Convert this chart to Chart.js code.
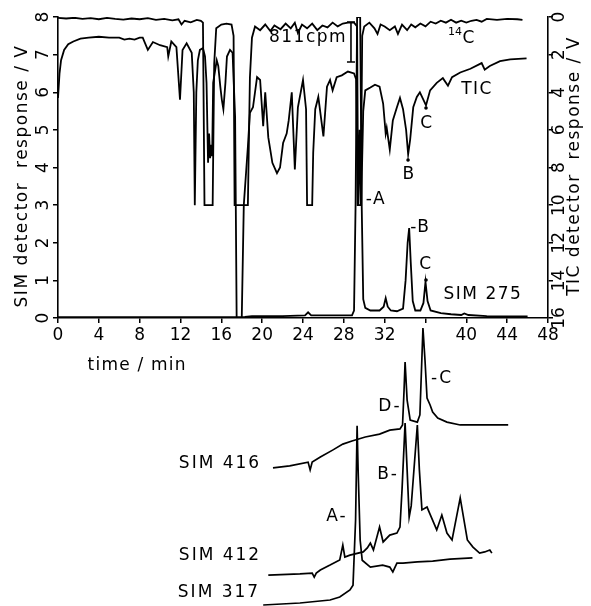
<!DOCTYPE html>
<html>
<head>
<meta charset="utf-8">
<script src="https://cdn.jsdelivr.net/npm/chart.js@4.4.1/dist/chart.umd.min.js"></script>
<style>
  html, body { margin: 0; padding: 0; background: #fff; }
  #wrap { position: relative; width: 591px; height: 606px; overflow: hidden; }
  canvas { position: absolute; left: 0; }
</style>
</head>
<body>
<div id="wrap">
  <canvas id="top" width="591" height="380" style="top:0"></canvas>
  <canvas id="bot" width="591" height="286" style="top:320px"></canvas>
</div>
<script>
// axes
const xTicks = [0, 4, 8, 12, 16, 20, 24, 28, 32, 36, 40, 44, 48];
const xTickLabels = ["0", "4", "8", "12", "16", "20", "24", "28", "32", "", "40", "44", "48"];
const simTicks = [0, 1, 2, 3, 4, 5, 6, 7, 8];
const ticTicks = [0, 2, 4, 6, 8, 10, 12, 14, 16];

// 14C radioactivity trace (right axis units, clipped at 10)
const c14Time = [0, 0.8, 1.6, 2.4, 3.2, 4.0, 4.8, 5.6, 6.4, 7.2, 8.0, 8.8, 9.6, 10.4, 11.2, 11.8, 12.1, 12.4, 13.0, 13.6,
  14.0, 14.2, 14.35, 15.15, 15.3, 15.5, 16.0, 16.5, 17.0, 17.2, 17.3, 18.6, 18.8, 19.0, 19.3, 19.8, 20.3, 20.8, 21.2, 21.8,
  22.3, 22.8, 23.2, 23.5, 23.9, 24.4, 24.9, 25.4, 25.9, 26.4, 26.9, 27.4, 27.9, 28.4, 29.0, 29.3, 29.4, 29.55, 29.65, 29.8,
  30.0, 30.5, 31.0, 31.3, 31.6, 32.0, 32.5, 33.0, 33.3, 33.7, 34.2, 34.6, 35.0, 35.5, 36.0, 36.5, 37.0, 37.5, 38.0, 38.5,
  39.0, 39.5, 40.0, 40.5, 41.0, 41.5, 42.0, 43.0, 44.0, 45.0, 45.5];
const c14Resp = [0.05, 0.08, 0.04, 0.1, 0.06, 0.12, 0.05, 0.1, 0.14, 0.08, 0.12, 0.06, 0.15, 0.1, 0.18, 0.12, 0.4, 0.2, 0.28, 0.15,
  0.2, 0.3, 10, 10, 2.5, 0.6, 0.4, 0.35, 0.4, 1.0, 10, 10, 3.2, 1.1, 0.5, 0.7, 0.4, 0.75, 0.45, 0.65,
  0.35, 0.6, 0.3, 0.85, 0.4, 0.6, 0.35, 0.7, 0.45, 0.55, 0.3, 0.5, 0.35, 0.3, 0.3, 0.5, 10, 6, 10, 1.0,
  0.5, 0.3, 0.6, 0.9, 0.4, 0.5, 0.7, 0.5, 0.9, 0.4, 0.7, 0.4, 0.55, 0.35, 0.5, 0.25, 0.35, 0.2, 0.3, 0.15,
  0.3, 0.2, 0.3, 0.2, 0.15, 0.25, 0.1, 0.15, 0.1, 0.12, 0.15];

// total ion current (right axis, V)
const ticTime = [0, 0.15, 0.3, 0.6, 1.0, 1.5, 2.2, 3.0, 4.0, 5.0, 6.0, 6.5, 7.0, 7.5, 8.0, 8.3, 8.8, 9.3, 10.0, 10.7,
  10.8, 11.1, 11.6, 11.95, 12.2, 12.6, 13.1, 13.3, 13.4, 13.55, 13.7, 13.9, 14.2, 14.4, 14.55, 14.7, 14.8, 14.9, 15.0, 15.1,
  15.2, 15.55, 15.7, 15.9, 16.05, 16.2, 16.4, 16.55, 16.85, 17.1, 17.35, 17.5, 18.0, 18.2, 18.6, 18.8, 19.1, 19.5, 19.8, 20.1,
  20.3, 20.6, 21.0, 21.45, 21.75, 22.05, 22.4, 22.6, 22.9, 23.2, 23.5, 24.0, 24.3, 24.4, 24.9, 25.0, 25.2, 25.5, 26.0, 26.35,
  26.65, 26.9, 27.3, 27.8, 28.4, 29.0, 29.2, 29.35, 29.7, 29.9, 30.1, 30.6, 31.05, 31.5, 31.85, 32.1, 32.2, 32.5, 32.8, 33.2,
  33.5, 33.8, 34.1, 34.3, 34.5, 34.8, 35.15, 35.45, 35.8, 36.05, 36.45, 37.1, 37.7, 38.2, 38.6, 39.4, 40.4, 41.5, 41.8, 42.3,
  43.3, 44.3, 45.9];
const ticResp = [4.3, 3.0, 2.3, 1.75, 1.45, 1.3, 1.15, 1.1, 1.05, 1.1, 1.1, 1.2, 1.15, 1.2, 1.1, 1.1, 1.75, 1.33, 1.5, 1.6,
  2.1, 1.3, 1.6, 4.4, 1.75, 1.4, 1.9, 4.0, 10, 4.0, 2.3, 1.75, 1.65, 2.1, 3.5, 7.75, 6.2, 7.5, 6.8, 7.4,
  3.5, 2.3, 2.6, 3.7, 4.4, 4.9, 3.5, 2.1, 1.75, 1.9, 5.3, 16, 16, 10, 6.9, 5.1, 4.8, 3.2, 3.35, 5.8,
  4.0, 6.4, 7.75, 8.3, 8.0, 6.7, 6.2, 5.5, 4.0, 8.1, 4.8, 3.35, 4.9, 10, 10, 7.2, 4.9, 4.25, 6.35, 3.7,
  3.35, 3.9, 3.2, 3.1, 2.9, 3.0, 3.3, 10, 10, 5.0, 3.9, 3.75, 3.6, 3.7, 4.6, 6.2, 5.9, 7.05, 5.5, 4.8,
  4.3, 4.9, 6.0, 7.3, 6.5, 4.8, 4.25, 4.0, 4.4, 4.7, 3.9, 3.5, 3.25, 3.65, 3.2, 2.95, 2.75, 2.45, 2.8, 2.6,
  2.35, 2.25, 2.2];

// SIM m/z 275 (left axis, V)
const sim275Time = [0, 17.3, 18.3, 19.0, 22.0, 24.2, 24.5, 24.8, 28.8, 29.0, 29.15, 29.3, 29.6, 29.75, 29.9, 30.1, 30.6, 31.5, 31.9, 32.1,
  32.3, 32.6, 33.2, 33.8, 34.05, 34.25, 34.4, 34.55, 34.75, 35.0, 35.5, 35.8, 36.0, 36.2, 36.5, 37.5, 38.5, 39.5, 39.8, 40.2,
  42.0, 46.0];
const sim275Resp = [0.02, 0.02, 0.03, 0.05, 0.05, 0.07, 0.15, 0.07, 0.07, 0.2, 3.0, 8.0, 8.0, 3.0, 0.5, 0.27, 0.2, 0.2, 0.3, 0.53,
  0.3, 0.2, 0.18, 0.25, 1.0, 2.0, 2.39, 1.5, 0.45, 0.2, 0.2, 0.4, 0.96, 0.45, 0.2, 0.13, 0.1, 0.08, 0.12, 0.08,
  0.05, 0.04];

// lower traces, relative response (offset traces)
const sim416Time = [21.06, 22.7, 24.5, 24.7, 24.9, 25.7, 26.9, 27.9, 28.8, 30.1, 31.5, 32.5, 33.5, 33.75, 33.9, 34.0, 34.2, 34.5, 35.2, 35.45,
  35.6, 35.75, 35.95, 36.15, 36.45, 36.7, 37.2, 38.1, 39.4, 41.6, 44.1];
const sim416Resp = [48.3, 49, 50.3, 47.6, 50.3, 52.1, 54.5, 56.6, 57.7, 59.1, 60.1, 61.5, 61.9, 63.3, 75.5, 85.3, 72, 65, 64.3, 66.8,
  82, 97.2, 86, 72.7, 70.3, 67.8, 65.7, 64.3, 63.3, 63.3, 63.3];

const sim412Time = [20.6, 23.7, 24.9, 25.1, 25.3, 25.7, 26.65, 27.6, 27.9, 28.1, 28.6, 29.9, 30.3, 30.6, 30.9, 31.5, 31.85, 32.5, 33.2, 33.5,
  33.7, 34.0, 34.2, 34.4, 34.6, 35.2, 35.4, 35.65, 36.15, 36.4, 37.1, 37.6, 38.1, 38.6, 39.4, 40.1, 40.65, 41.3, 41.8, 42.3,
  42.5];
const sim412Resp = [10.8, 11.2, 11.5, 10.1, 11.5, 12.6, 14.3, 16.1, 21.3, 17.1, 17.8, 18.9, 20.3, 22, 19.6, 27.6, 22.4, 24.8, 25.5, 27.6,
  40.6, 64, 47.6, 31.1, 35, 63.3, 47.6, 33.6, 34.6, 32.5, 26.6, 31.8, 25.5, 23.1, 37.8, 23.1, 20.6, 18.5, 18.9, 19.6,
  18.5];

const sim317Time = [20.1, 23.7, 26.65, 27.6, 28.6, 28.9, 29.15, 29.3, 29.4, 29.6, 29.8, 30.6, 31.8, 32.5, 32.8, 33.2, 33.8, 35.2, 36.7, 38.4, 40.6];
const sim317Resp = [0.35, 1.05, 2.1, 3.15, 5.6, 7.3, 30, 63, 47.5, 23, 16, 13.6, 14.3, 13.6, 11.9, 15, 15, 15.4, 15.7, 16.4, 16.8];

// text placed at (time, value)
const topNotes = [
  { text: "811cpm", t: 24.49, v: 1.12, axis: "yr" },
  { text: "TIC", t: 41.05, v: 3.88, axis: "yr" },
  { text: "C", t: 36.15, v: 5.69, axis: "yr" },
  { text: "B", t: 34.38, v: 8.35, axis: "yr" },
  { text: "-A", t: 31.15, v: 3.14, axis: "y" },
  { text: "-B", t: 35.5, v: 2.39, axis: "y" },
  { text: "C", t: 36.05, v: 1.41, axis: "y" },
  { text: "SIM 275", t: 41.63, v: 0.61, axis: "y" }
];
const topDots = [
  { t: 36.05, v: 4.84, axis: "yr" },
  { t: 34.29, v: 7.6, axis: "yr" },
  { t: 36.05, v: 1.01, axis: "y" }
];
const botNotes = [
  { text: "SIM 416", t: 15.87, v: 49.65 },
  { text: "SIM 412", t: 15.87, v: 17.48 },
  { text: "SIM 317", t: 15.77, v: 4.55 },
  { text: "A-", t: 27.33, v: 31.1 },
  { text: "B-", t: 32.33, v: 45.8 },
  { text: "D-", t: 32.52, v: 69.9 },
  { text: "-C", t: 37.62, v: 79.4 }
];

const FONT = '"DejaVu Sans", "Liberation Sans", sans-serif';

function pts(ts, vs) {
  return ts.map((t, i) => ({ x: t, y: vs[i] }));
}

function rotText(ctx, text, x, y) {
  ctx.save();
  ctx.translate(x, y);
  ctx.rotate(-Math.PI / 2);
  ctx.fillText(text, 0, 0);
  ctx.restore();
}

const topText = {
  id: "topText",
  afterDraw(chart) {
    const { ctx, chartArea: a, scales } = chart;
    const x = scales.x;
    ctx.save();
    ctx.fillStyle = "#000";
    ctx.strokeStyle = "#000";
    ctx.textAlign = "center";
    ctx.textBaseline = "middle";
    ctx.font = "17px " + FONT;

    xTicks.forEach((t, i) => ctx.fillText(xTickLabels[i], x.getPixelForValue(t), a.bottom + 18));
    simTicks.forEach(v => rotText(ctx, String(v), a.left - 14.5, scales.y.getPixelForValue(v)));
    ticTicks.forEach(v => rotText(ctx, String(v), a.right + 11.5, scales.yr.getPixelForValue(v)));

    ctx.letterSpacing = "1.5px";
    rotText(ctx, "SIM detector  response / V", 22.5, 176);
    rotText(ctx, "TIC detector  response / V", a.right + 27, 166);
    ctx.letterSpacing = "1.2px";
    ctx.fillText("time / min", x.getPixelForValue(7.75), a.bottom + 48);

    ctx.letterSpacing = "1.5px";
    topNotes.forEach(n => ctx.fillText(n.text, x.getPixelForValue(n.t), scales[n.axis].getPixelForValue(n.v)));
    ctx.letterSpacing = "0px";

    // 14C label with superscript
    ctx.font = "11px " + FONT;
    ctx.fillText("14", x.getPixelForValue(38.9), scales.yr.getPixelForValue(0.8));
    ctx.font = "17px " + FONT;
    ctx.fillText("C", x.getPixelForValue(40.2), scales.yr.getPixelForValue(1.17));

    topDots.forEach(d => {
      ctx.beginPath();
      ctx.arc(x.getPixelForValue(d.t), scales[d.axis].getPixelForValue(d.v), 1.8, 0, Math.PI * 2);
      ctx.fill();
    });

    // 811 cpm scale bar
    const bx = x.getPixelForValue(28.7);
    const by1 = scales.yr.getPixelForValue(0.27);
    const by2 = scales.yr.getPixelForValue(2.39);
    ctx.lineWidth = 1.6;
    ctx.beginPath();
    ctx.moveTo(bx, by1); ctx.lineTo(bx, by2);
    ctx.moveTo(bx - 4, by1); ctx.lineTo(bx + 4, by1);
    ctx.moveTo(bx - 4, by2); ctx.lineTo(bx + 4, by2);
    ctx.stroke();
    ctx.restore();
  }
};

const botText = {
  id: "botText",
  afterDraw(chart) {
    const { ctx, scales } = chart;
    ctx.save();
    ctx.fillStyle = "#000";
    ctx.textAlign = "center";
    ctx.textBaseline = "middle";
    ctx.font = "17px " + FONT;
    ctx.letterSpacing = "2px";
    botNotes.forEach(n => ctx.fillText(n.text, scales.x.getPixelForValue(n.t), scales.y.getPixelForValue(n.v)));
    ctx.restore();
  }
};

const axisGrid = { drawOnChartArea: false, drawTicks: true, tickLength: 5, color: "#000", lineWidth: 1.5 };
const axisBorder = { color: "#000", width: 1.6 };

new Chart(document.getElementById("top"), {
  type: "line",
  data: {
    datasets: [
      { label: "14C", data: pts(c14Time, c14Resp), yAxisID: "yr" },
      { label: "TIC", data: pts(ticTime, ticResp), yAxisID: "yr" },
      { label: "SIM 275", data: pts(sim275Time, sim275Resp), yAxisID: "y" }
    ]
  },
  options: {
    responsive: false,
    animation: false,
    layout: { padding: { top: 17, left: 0, right: 0, bottom: 0 } },
    plugins: { legend: { display: false }, tooltip: { enabled: false } },
    elements: {
      point: { radius: 0 },
      line: { borderColor: "#000", borderWidth: 1.8, tension: 0, fill: false }
    },
    scales: {
      x: {
        type: "linear", min: 0, max: 48,
        ticks: { stepSize: 4, display: false },
        grid: axisGrid, border: axisBorder,
        afterFit: s => { s.height = 62; }
      },
      y: {
        position: "left", min: 0, max: 8,
        ticks: { stepSize: 1, display: false },
        grid: axisGrid, border: axisBorder,
        afterFit: s => { s.width = 58; }
      },
      yr: {
        position: "right", min: 0, max: 16, reverse: true,
        ticks: { stepSize: 2, display: false },
        grid: axisGrid, border: axisBorder,
        afterFit: s => { s.width = 43; }
      }
    }
  },
  plugins: [topText]
});

new Chart(document.getElementById("bot"), {
  type: "line",
  data: {
    datasets: [
      { label: "SIM 416", data: pts(sim416Time, sim416Resp), clip: 6 },
      { label: "SIM 412", data: pts(sim412Time, sim412Resp), clip: 6 },
      { label: "SIM 317", data: pts(sim317Time, sim317Resp), clip: 6 }
    ]
  },
  options: {
    responsive: false,
    animation: false,
    layout: { padding: { top: 0, left: 58, right: 43, bottom: 0 } },
    plugins: { legend: { display: false }, tooltip: { enabled: false } },
    elements: {
      point: { radius: 0 },
      line: { borderColor: "#000", borderWidth: 1.7, tension: 0, fill: false }
    },
    scales: {
      x: { type: "linear", min: 0, max: 48, display: false },
      y: { min: 0, max: 100, display: false }
    }
  },
  plugins: [botText]
});
</script>
</body>
</html>
